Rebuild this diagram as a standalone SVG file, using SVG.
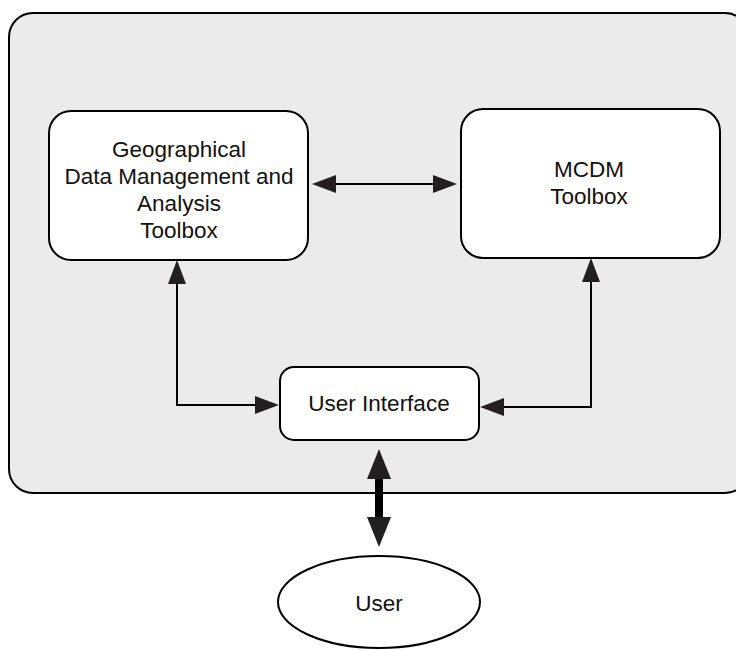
<svg xmlns="http://www.w3.org/2000/svg" width="736" height="650" viewBox="0 0 736 650">
  <style>
    .frame { fill: #ebebeb; stroke: #000; stroke-width: 2; }
    .box { fill: #fff; stroke: #000; stroke-width: 2; }
    .label { font-family: "Liberation Sans", Arial, sans-serif; font-size: 22.5px; fill: #111; text-anchor: middle; }
    .link { fill: none; stroke: #000; stroke-width: 2; }
    .thick { fill: none; stroke: #000; stroke-width: 8; }
  </style>
  <defs>
    <marker id="head" markerUnits="userSpaceOnUse" markerWidth="24" markerHeight="18" viewBox="0 0 24 18" refX="20" refY="9" orient="auto-start-reverse">
      <path d="M0,0 L24,9 L0,18 z" fill="#231f20"/>
    </marker>
    <marker id="bighead" markerUnits="userSpaceOnUse" markerWidth="30" markerHeight="24" viewBox="0 0 30 24" refX="6" refY="12" orient="auto-start-reverse">
      <path d="M0,0 L30,12 L0,24 z" fill="#231f20"/>
    </marker>
  </defs>

  <!-- system boundary -->
  <rect class="frame" x="9" y="13" width="740" height="480" rx="24" ry="24"/>

  <g id="geo-toolbox">
    <rect class="box" x="49" y="111" width="259" height="149" rx="22" ry="22"/>
    <text class="label" x="179" y="157">Geographical</text>
    <text class="label" x="179" y="184">Data Management and</text>
    <text class="label" x="179" y="211">Analysis</text>
    <text class="label" x="179" y="238">Toolbox</text>
  </g>

  <g id="mcdm-toolbox">
    <rect class="box" x="461" y="109" width="259" height="149" rx="22" ry="22"/>
    <text class="label" x="589" y="177">MCDM</text>
    <text class="label" x="589" y="204">Toolbox</text>
  </g>

  <g id="user-interface">
    <rect class="box" x="280" y="367" width="199" height="73" rx="14" ry="14"/>
    <text class="label" x="379" y="411">User Interface</text>
  </g>

  <g id="user">
    <ellipse class="box" cx="379" cy="602" rx="101" ry="46"/>
    <text class="label" x="379" y="611">User</text>
  </g>

  <g id="connectors">
    <path class="link" d="M316,184 L453,184" marker-start="url(#head)" marker-end="url(#head)"/>
    <path class="link" d="M275,405 L177,405 L177,264" marker-start="url(#head)" marker-end="url(#head)"/>
    <path class="link" d="M484,407 L591,407 L591,262" marker-start="url(#head)" marker-end="url(#head)"/>
    <path class="thick" d="M379,473 L379,523" marker-start="url(#bighead)" marker-end="url(#bighead)"/>
  </g>
</svg>
